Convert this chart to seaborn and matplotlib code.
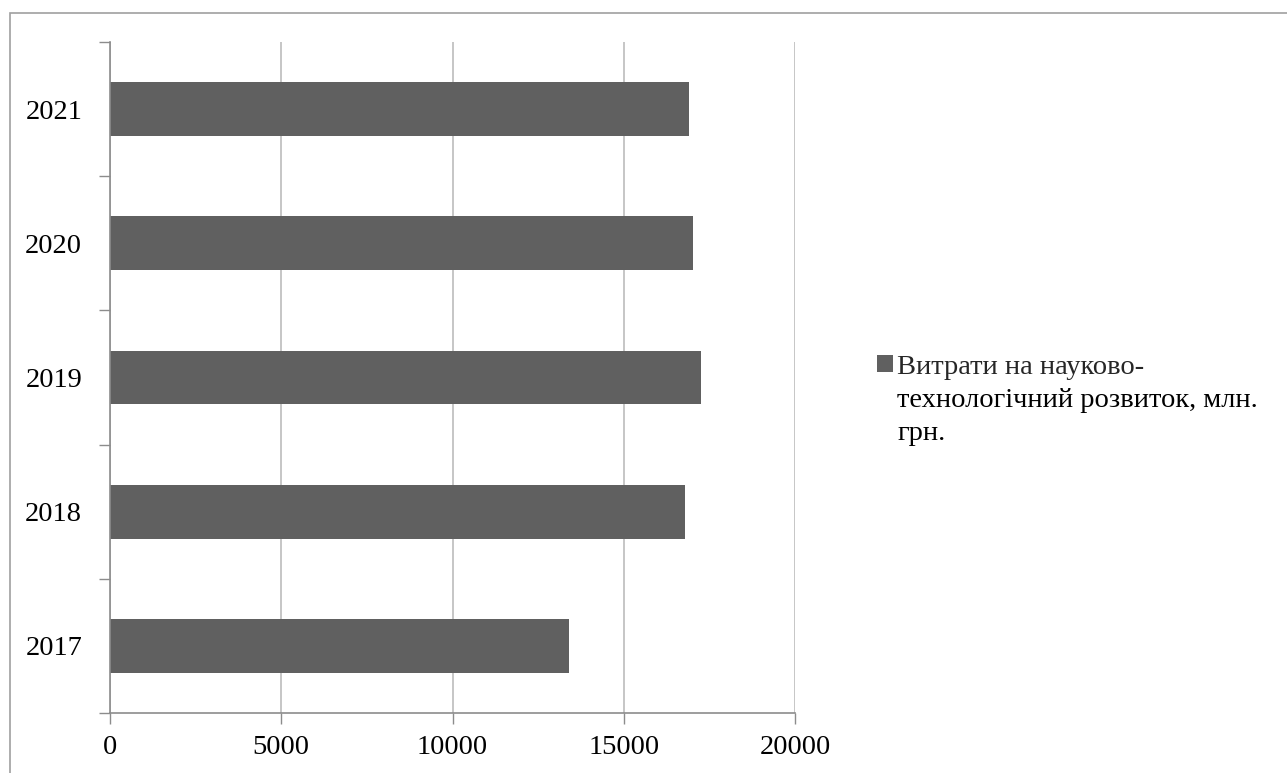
import matplotlib
matplotlib.use("Agg")
import matplotlib.pyplot as plt
import seaborn as sns
import pandas as pd
from matplotlib.patches import Rectangle, Patch

years = ["2021", "2020", "2019", "2018", "2017"]
values = [16900, 17030, 17260, 16780, 13390]
series_lines = ["Витрати на науково-", "технологічний розвиток, млн.", "грн."]
x_ticks = [0, 5000, 10000, 15000, 20000]

FS = 20.5

sns.set_theme(style="white")
plt.rcParams["font.family"] = ["Liberation Serif", "DejaVu Serif"]

df = pd.DataFrame({"year": years, "value": values})

fig = plt.figure(figsize=(12.87, 7.73), dpi=100)
W, H = 1287, 773
ax = fig.add_axes([110 / W, 1 - 713 / H, (795 - 110) / W, (713 - 42) / H])

sns.barplot(data=df, x="value", y="year", order=years, orient="h",
            color="#606060", saturation=1, width=0.4, ax=ax, edgecolor="none")

ax.set_xlim(0, 20000)
ax.set_ylim(4.5, -0.5)
ax.set_xticks(x_ticks)
ax.set_xticklabels([str(t) for t in x_ticks])
ax.set_xlabel("")
ax.set_ylabel("")
ax.grid(axis="x", color="#bcbcbc", linewidth=1.2)
ax.set_axisbelow(True)

for s in ["top", "right"]:
    ax.spines[s].set_visible(False)
for s in ["left", "bottom"]:
    ax.spines[s].set_color("#8c8c8c")
    ax.spines[s].set_linewidth(1.2)

ax.tick_params(axis="x", direction="out", length=8, width=1, color="#8c8c8c",
               labelsize=FS, pad=8, labelcolor="black", bottom=True)
ax.tick_params(axis="y", which="major", length=0, labelsize=FS, pad=20, labelcolor="black")
ax.set_yticks([-0.5, 0.5, 1.5, 2.5, 3.5, 4.5], minor=True)
ax.tick_params(axis="y", which="minor", direction="out", length=8, width=1,
               color="#8c8c8c", left=True)

# legend: marker + first line, remaining lines as plain text beneath
handle = Patch(facecolor="#606060", edgecolor="none")
anchor_y = 349
leg = fig.legend([handle], [series_lines[0]], loc="upper left",
                 bbox_to_anchor=(877 / W, 1 - anchor_y / H), frameon=False,
                 fontsize=FS, handlelength=0.56, handleheight=0.54,
                 handletextpad=0.15, borderaxespad=0, borderpad=0)

fig.canvas.draw()
renderer = fig.canvas.get_renderer()
t0 = leg.get_texts()[0]
bb = t0.get_window_extent(renderer)
_, _, desc = renderer.get_text_width_height_descent(series_lines[0], t0.get_fontproperties(), ismath=False)
baseline_from_top = H - (bb.y0 + desc)
delta = 374 - baseline_from_top
leg.set_bbox_to_anchor((877 / W, 1 - (anchor_y + delta) / H), transform=fig.transFigure)
fig.canvas.draw()
bb = t0.get_window_extent(renderer)
x_text = bb.x0 / W

for line, base in zip(series_lines[1:], [407, 440]):
    fig.text(x_text, 1 - base / H, line, fontsize=FS, va="baseline", ha="left", color="black")

fig.patches.append(Rectangle((10 / W, 1 - 1.2), 1.5, 1.2 - 13 / H,
                             transform=fig.transFigure, fill=False,
                             edgecolor="#a0a0a0", linewidth=1.2, zorder=0))

fig.savefig("out.png", dpi=100)
